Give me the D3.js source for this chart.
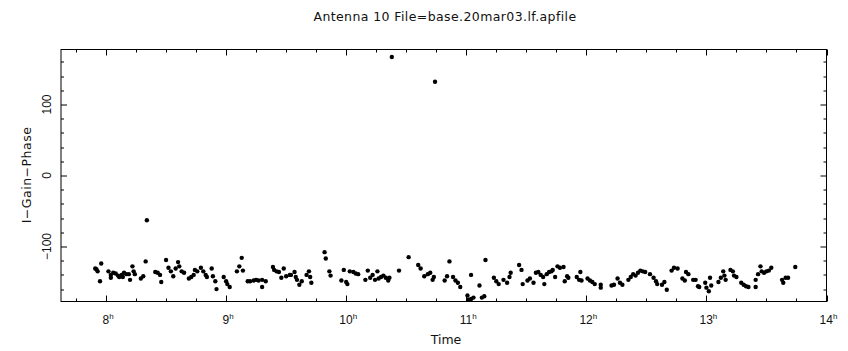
<!DOCTYPE html>
<html>
<head>
<meta charset="utf-8">
<script src="https://cdn.jsdelivr.net/npm/d3@7"></script>
<style>
  body { margin: 0; background: #fff; }
  text { font-family: "DejaVu Sans", "Liberation Sans", sans-serif; fill: #111; }
</style>
</head>
<body>
<div id="chart"></div>
<script>
// time in decimal hours, phase in degrees
var times = [7.91,7.92,7.93,7.95,7.96,8.02,8.04,8.04,8.06,8.08,8.10,8.11,8.13,8.14,8.15,8.17,8.19,8.20,8.22,8.23,
  8.24,8.29,8.31,8.33,8.34,8.41,8.43,8.45,8.46,8.50,8.52,8.54,8.56,8.58,8.60,8.61,8.63,8.65,8.69,8.71,
  8.73,8.74,8.76,8.79,8.81,8.83,8.84,8.88,8.89,8.91,8.92,8.98,9.00,9.01,9.03,9.09,9.11,9.13,9.14,9.18,
  9.20,9.23,9.25,9.27,9.30,9.30,9.33,9.39,9.40,9.42,9.44,9.46,9.48,9.50,9.53,9.54,9.57,9.58,9.59,9.61,
  9.63,9.67,9.69,9.70,9.71,9.82,9.83,9.86,9.87,9.96,9.98,10.00,10.01,10.03,10.06,10.08,10.10,10.16,10.18,10.20,
  10.22,10.24,10.26,10.27,10.29,10.31,10.33,10.35,10.36,10.38,10.44,10.52,10.60,10.62,10.65,10.68,10.70,10.72,10.73,10.74,
  10.82,10.84,10.86,10.89,10.91,10.93,10.95,11.01,11.02,11.04,11.04,11.06,11.11,11.13,11.15,11.16,11.23,11.25,11.27,11.31,
  11.34,11.36,11.37,11.44,11.46,11.47,11.51,11.53,11.56,11.58,11.60,11.62,11.64,11.65,11.67,11.69,11.71,11.72,11.74,11.76,
  11.78,11.81,11.82,11.84,11.85,11.92,11.94,11.95,11.96,12.01,12.03,12.05,12.07,12.12,12.12,12.21,12.23,12.26,12.28,12.30,
  12.35,12.37,12.39,12.41,12.43,12.45,12.47,12.49,12.53,12.56,12.58,12.59,12.63,12.65,12.67,12.71,12.73,12.76,12.80,12.82,
  12.83,12.85,12.89,12.91,12.93,12.94,12.99,13.00,13.02,13.03,13.04,13.10,13.12,13.14,13.15,13.16,13.20,13.22,13.23,13.25,
  13.29,13.31,13.33,13.35,13.41,13.41,13.43,13.45,13.46,13.48,13.50,13.52,13.54,13.63,13.64,13.66,13.68,13.74];
var phases = [-131,-132,-135,-149,-124,-135,-140,-144,-137,-138,-141,-143,-140,-143,-137,-139,-139,-147,-128,-135,
  -139,-145,-142,-121,-63,-136,-137,-140,-150,-119,-130,-135,-142,-131,-122,-128,-135,-137,-145,-143,
  -140,-133,-135,-130,-135,-140,-143,-131,-142,-149,-160,-143,-149,-153,-157,-135,-128,-116,-134,-149,
  -149,-148,-147,-148,-147,-157,-149,-129,-133,-135,-136,-144,-131,-142,-140,-140,-136,-143,-147,-154,
  -149,-140,-135,-143,-151,-108,-117,-135,-141,-148,-133,-150,-153,-135,-136,-138,-139,-147,-134,-144,
  -140,-147,-135,-145,-143,-141,-144,-148,-144,167,-134,-115,-126,-131,-142,-139,-137,-147,-143,132,
  -148,-142,-121,-143,-148,-151,-157,-169,-175,-174,-140,-172,-155,-172,-170,-119,-144,-149,-153,-147,
  -151,-143,-137,-126,-133,-153,-148,-145,-151,-137,-136,-140,-143,-153,-139,-136,-135,-133,-143,-128,
  -130,-129,-149,-142,-144,-143,-147,-136,-148,-145,-148,-150,-153,-154,-158,-155,-154,-145,-151,-154,
  -147,-143,-139,-141,-137,-134,-135,-136,-139,-144,-149,-153,-154,-150,-161,-134,-130,-131,-145,-148,
  -136,-139,-147,-147,-156,-157,-151,-158,-163,-144,-155,-150,-144,-135,-141,-147,-133,-135,-141,-143,
  -151,-154,-156,-157,-157,-147,-139,-128,-135,-137,-135,-134,-130,-147,-151,-144,-144,-129];

var xTicksMajor = [8, 9, 10, 11, 12, 13, 14];
var yTicksMajor = [-100, 0, 100];

var width = 848, height = 351;
var margin = {top: 49.5, right: 21.5, bottom: 49.5, left: 61};
var plotW = width - margin.left - margin.right;
var plotH = height - margin.top - margin.bottom;

var svg = d3.select("#chart").append("svg")
  .attr("width", width)
  .attr("height", height);

var g = svg.append("g")
  .attr("transform", `translate(${margin.left},${margin.top})`);

var x = d3.scaleLinear().domain([7.625, 14]).range([0, plotW]);
var y = d3.scaleLinear().domain([-177.5, 177.5]).range([plotH, 0]);

// frame
g.append("rect")
  .attr("x", 0).attr("y", 0)
  .attr("width", plotW).attr("height", plotH)
  .attr("fill", "none").attr("stroke", "#000").attr("stroke-width", 1);

// inward ticks on all four sides (PGPLOT style)
var xMinor = d3.range(7.75, 14.001, 0.25);
var yMinor = d3.range(-160, 161, 20);
function isMajX(v) { return Math.abs(v - Math.round(v)) < 1e-6; }
function isMajY(v) { return v % 100 === 0; }

var tk = g.append("g").attr("stroke", "#000").attr("stroke-width", 1);
xMinor.forEach(function(v) {
  var len = isMajX(v) ? 6 : 3;
  var px = Math.round(x(v)) + 0.5;
  tk.append("line").attr("x1", px).attr("x2", px).attr("y1", plotH).attr("y2", plotH - len);
  tk.append("line").attr("x1", px).attr("x2", px).attr("y1", 0).attr("y2", len);
});
yMinor.forEach(function(v) {
  var len = isMajY(v) ? 6 : 3;
  var py = Math.round(y(v)) + 0.5;
  tk.append("line").attr("x1", 0).attr("x2", len).attr("y1", py).attr("y2", py);
  tk.append("line").attr("x1", plotW).attr("x2", plotW - len).attr("y1", py).attr("y2", py);
});

// x tick labels with superscript h
xTicksMajor.forEach(function(h) {
  var t = g.append("text")
    .attr("x", x(h) + 2)
    .attr("y", plotH + 22)
    .attr("text-anchor", "middle")
    .style("font-family", "'Liberation Sans', sans-serif")
    .style("font-size", "12px");
  t.append("tspan").text(h);
  t.append("tspan").attr("dy", -5).style("font-size", "8px").text("h");
});

// y tick labels, rotated
yTicksMajor.forEach(function(v) {
  g.append("text")
    .attr("transform", `translate(${-10},${y(v)}) rotate(-90)`)
    .attr("text-anchor", "middle")
    .style("font-family", "'Liberation Sans', sans-serif")
    .style("font-size", "12px")
    .text(v < 0 ? "\u2212" + Math.abs(v) : v);
});

// points
g.selectAll(".pt")
  .data(times)
  .enter().append("circle")
  .attr("class", "pt")
  .attr("cx", (d, i) => x(d))
  .attr("cy", (d, i) => y(phases[i]))
  .attr("r", 2.2)
  .attr("fill", "#000");

// titles
svg.append("text")
  .attr("x", 445).attr("y", 21)
  .attr("text-anchor", "middle")
  .style("font-size", "12.5px")
  .style("letter-spacing", "0.4px")
  .text("Antenna 10 File=base.20mar03.lf.apfile");

svg.append("text")
  .attr("x", 446).attr("y", 344)
  .attr("text-anchor", "middle")
  .style("font-size", "12.5px")
  .text("Time");

svg.append("text")
  .attr("transform", `translate(31,175) rotate(-90)`)
  .attr("text-anchor", "middle")
  .style("font-size", "12.5px")
  .style("letter-spacing", "0.5px")
  .text("I\u2212Gain\u2212Phase");
</script>
</body>
</html>
